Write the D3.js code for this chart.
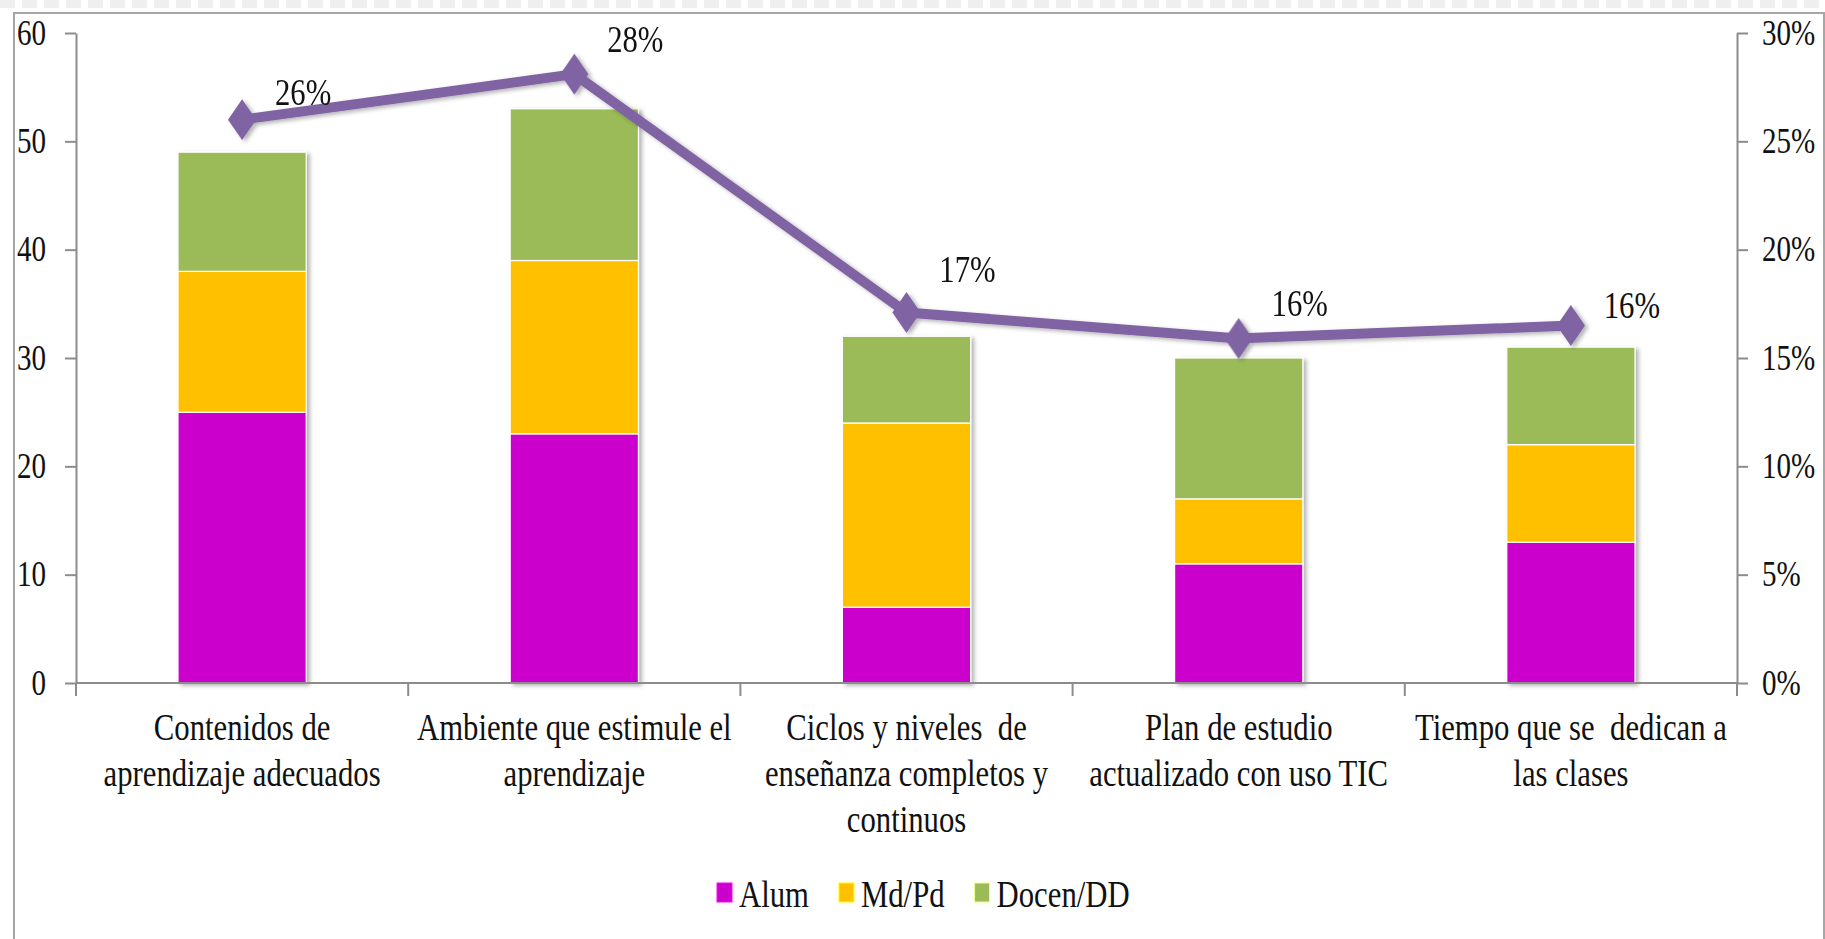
<!DOCTYPE html>
<html>
<head>
<meta charset="utf-8">
<script src="https://cdn.jsdelivr.net/npm/d3@7"></script>
<style>
  html, body { margin: 0; padding: 0; background: #ffffff; }
  svg { display: block; }
  svg text { font-family: "Liberation Serif", "DejaVu Serif", serif !important; fill: #111; }
</style>
</head>
<body>
<svg id="chart" width="1825" height="939"></svg>
<script>
// ---------- data ----------
const categories = [
  "Contenidos de aprendizaje adecuados",
  "Ambiente que estimule el aprendizaje",
  "Ciclos y niveles de enseñanza completos y continuos",
  "Plan de estudio actualizado con uso TIC",
  "Tiempo que se dedican a las clases"
];
const categoryLines = [
  ["Contenidos de", "aprendizaje adecuados"],
  ["Ambiente que estimule el", "aprendizaje"],
  ["Ciclos y niveles  de", "enseñanza completos y", "continuos"],
  ["Plan de estudio", "actualizado con uso TIC"],
  ["Tiempo que se  dedican a", "las clases"]
];
const seriesNames = ["Alum", "Md/Pd", "Docen/DD"];
const alum  = [25, 23, 7, 11, 13];
const mdpd  = [13, 16, 17, 6, 9];
const docen = [11, 14, 8, 13, 9];
const share = [0.260, 0.281, 0.171, 0.159, 0.165];
const shareLabels = ["26%", "28%", "17%", "16%", "16%"];
const leftTicks  = [0, 10, 20, 30, 40, 50, 60];
const rightTicks = [0, 0.05, 0.10, 0.15, 0.20, 0.25, 0.30];

// ---------- layout / style ----------
const FONT = '"Liberation Serif", "DejaVu Serif", serif';
const colors = ["#CC00CC", "#FFC000", "#9BBB59"];
const lineColor = "#8064A2";
const axisColor = "#8c8c8c";
const SX = 0.83;           // horizontal text condensing
const FS = 37;
const plot = { left: 76, right: 1737, top: 33, bottom: 683 };
const labelNudge = [-15, -22, -31, -23, -8];

const svg = d3.select("#chart");

// defs: shadow
const defs = svg.append("defs");
const f = defs.append("filter").attr("id", "shadow").attr("x", "-20%").attr("y", "-20%").attr("width", "140%").attr("height", "140%");
f.append("feDropShadow").attr("dx", 3).attr("dy", 2).attr("stdDeviation", 2)
  .attr("flood-color", "#000").attr("flood-opacity", 0.3);

// frame: top dashed band + border lines
const band = svg.append("g");
band.selectAll("rect").data(d3.range(0, 1825, 22)).join("rect")
  .attr("x", d => d).attr("y", 0).attr("width", 15).attr("height", 8).attr("fill", "#efefef");
svg.append("path")
  .attr("d", "M14,939 L14,13 L1824,13 L1824,939")
  .attr("fill", "none").attr("stroke", "#a6a6a6").attr("stroke-width", 2);

// scales
const x = d3.scaleBand().domain(categories).range([plot.left, plot.right]).paddingInner(0).paddingOuter(0);
const y = d3.scaleLinear().domain([0, 60]).range([plot.bottom, plot.top]);
const yR = d3.scaleLinear().domain([0, 0.30]).range([plot.bottom, plot.top]);
const barW = x.bandwidth() * 0.386;

// stacked bars
const rows = categories.map((c, i) => ({ cat: c, Alum: alum[i], "Md/Pd": mdpd[i], "Docen/DD": docen[i] }));
const stacked = d3.stack().keys(seriesNames)(rows);

const barsG = svg.append("g").attr("filter", "url(#shadow)");
stacked.forEach((layer, li) => {
  barsG.append("g").selectAll("rect").data(layer).join("rect")
    .attr("x", d => x(d.data.cat) + x.bandwidth() / 2 - barW / 2)
    .attr("y", d => y(d[1]))
    .attr("width", barW)
    .attr("height", d => y(d[0]) - y(d[1]))
    .attr("fill", colors[li])
    .attr("stroke", "#ffffff").attr("stroke-width", 1.2);
});

// axes
const leftAxis = svg.append("g").attr("transform", `translate(${plot.left},0)`)
  .call(d3.axisLeft(y).tickValues(leftTicks).tickSize(11).tickSizeOuter(0).tickFormat(d3.format("d")));
const rightAxis = svg.append("g").attr("transform", `translate(${plot.right},0)`)
  .call(d3.axisRight(yR).tickValues(rightTicks).tickSize(11).tickSizeOuter(0).tickFormat(d3.format(".0%")));

[leftAxis, rightAxis].forEach(g => {
  g.attr("font-family", FONT);
  g.select(".domain").attr("stroke", axisColor).attr("stroke-width", 2);
  g.selectAll(".tick line").attr("stroke", axisColor).attr("stroke-width", 2);
  g.selectAll(".tick text").style("font-family", FONT).attr("font-size", 35).attr("fill", "#111");
});
leftAxis.selectAll(".tick text").attr("x", -30 / SX).attr("transform", `scale(${SX},1)`).attr("text-anchor", "end");
rightAxis.selectAll(".tick text").attr("x", 25 / SX).attr("transform", `scale(${SX},1)`).attr("text-anchor", "start");

// x axis line + category boundary ticks
svg.append("line").attr("x1", plot.left).attr("x2", plot.right)
  .attr("y1", plot.bottom).attr("y2", plot.bottom)
  .attr("stroke", axisColor).attr("stroke-width", 2);
const bounds = categories.map(c => x(c)).concat([x.range()[1]]);
svg.append("g").selectAll("line").data(bounds).join("line")
  .attr("x1", d => d).attr("x2", d => d)
  .attr("y1", plot.bottom).attr("y2", plot.bottom + 13)
  .attr("stroke", axisColor).attr("stroke-width", 2);

// category labels
const catG = svg.append("g");
categories.forEach((c, i) => {
  const cx = x(c) + x.bandwidth() / 2;
  categoryLines[i].forEach((ln, j) => {
    catG.append("text")
      .attr("transform", `translate(${cx},${plot.bottom + 57 + j * 46}) scale(${SX},1)`)
      .attr("text-anchor", "middle").attr("font-size", FS)
      .style("font-family", FONT)
      .style("white-space", "pre").attr("xml:space", "preserve")
      .text(ln);
  });
});

// line series
const pts = categories.map((c, i) => [x(c) + x.bandwidth() / 2, yR(share[i])]);
const lineG = svg.append("g").attr("filter", "url(#shadow)");
lineG.append("path")
  .attr("d", d3.line()(pts))
  .attr("fill", "none").attr("stroke", lineColor).attr("stroke-width", 10)
  .attr("stroke-linejoin", "round");
lineG.selectAll("path.mk").data(pts).join("path").attr("class", "mk")
  .attr("d", d3.symbol(d3.symbolDiamond, 480)())
  .attr("transform", d => `translate(${d[0]},${d[1]}) scale(1.2,1)`)
  .attr("fill", lineColor);

// data labels
svg.append("g").selectAll("text").data(pts).join("text")
  .attr("transform", (d, i) => `translate(${d[0] + 61},${d[1] + labelNudge[i]}) scale(${SX},1)`)
  .attr("text-anchor", "middle").attr("font-size", FS)
  .style("font-family", FONT)
  .text((d, i) => shareLabels[i]);

// legend
const leg = svg.append("g");
let lx = 717;
seriesNames.forEach((name, i) => {
  leg.append("rect").attr("x", lx).attr("y", 883).attr("width", 15).attr("height", 19)
    .attr("fill", colors[i]).attr("stroke", d3.color(colors[i]).brighter(1.2)).attr("stroke-width", 1);
  const t = leg.append("text")
    .attr("transform", `translate(${lx + 22},907) scale(${SX},1)`)
    .attr("font-size", FS).style("font-family", FONT).text(name);
  const w = t.node().getComputedTextLength() * SX;
  lx += 22 + w + 30;
});
</script>
</body>
</html>
